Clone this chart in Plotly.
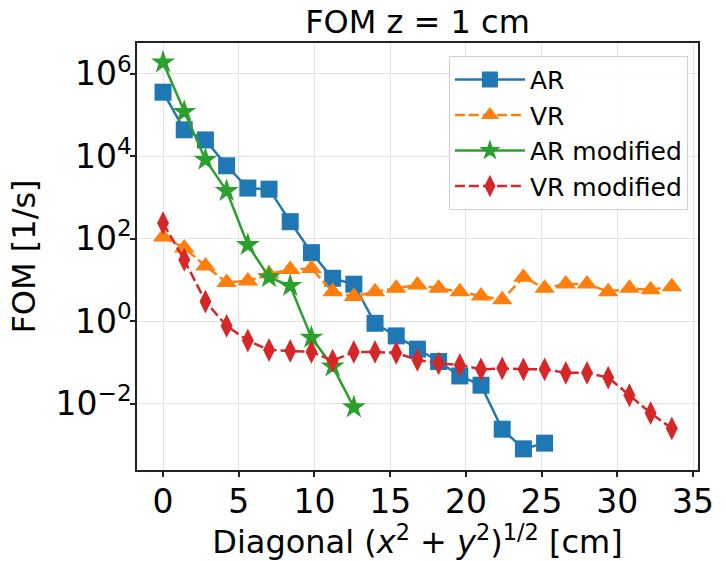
import plotly.graph_objects as go

# ---- data ----
step = 1.4
x_ar = [round(step * i, 2) for i in range(19)]
y_ar = [3.6e5, 4.4e4, 2.5e4, 5.9e3, 1.7e3, 1.6e3, 260, 46, 11, 7.9, 0.89, 0.44,
        0.21, 0.105, 0.047, 0.028, 0.0024, 8.0e-4, 1.1e-3]

x_vr = [round(step * i, 2) for i in range(25)]
y_vr = [110, 60, 22, 8.7, 9.5, 14, 18, 19, 5.2, 4.0, 5.2, 6.3, 7.6, 6.3, 5.2,
        4.1, 3.3, 11.7, 6.3, 8.0, 8.0, 5.2, 6.3, 5.8, 6.9]

x_arm = [round(step * i, 2) for i in range(10)]
y_arm = [1.9e6, 1.2e5, 8.3e3, 1.45e3, 71, 11.7, 7.2, 0.40, 0.08, 0.0082]

x_vrm = [round(step * i, 2) for i in range(25)]
y_vrm = [240, 31, 3.0, 0.77, 0.34, 0.20, 0.19, 0.18, 0.11, 0.18, 0.18, 0.17,
         0.115, 0.095, 0.087, 0.068, 0.072, 0.068, 0.068, 0.056, 0.056, 0.043,
         0.016, 0.0059, 0.0025]

x_ticks = [0, 5, 10, 15, 20, 25, 30, 35]
y_ticks = [1e-2, 1e0, 1e2, 1e4, 1e6]
y_ticktext = ["10<sup>\u22122</sup>", "10<sup>0</sup>", "10<sup>2</sup>",
              "10<sup>4</sup>", "10<sup>6</sup>"]

FONT = "DejaVu Sans"
LW = 2.5

fig = go.Figure()
fig.add_trace(go.Scatter(x=x_ar, y=y_ar, name="AR", mode="lines+markers",
                         line=dict(color="#1f77b4", width=LW),
                         marker=dict(symbol="square", size=17, color="#1f77b4")))
fig.add_trace(go.Scatter(x=x_vr, y=y_vr, name="VR", mode="lines+markers",
                         line=dict(color="#ff7f0e", width=LW, dash="10px,4px"),
                         marker=dict(symbol="triangle-up", size=18, color="#ff7f0e")))
fig.add_trace(go.Scatter(x=x_arm, y=y_arm, name="AR modified", mode="lines+markers",
                         line=dict(color="#2ca02c", width=LW),
                         marker=dict(symbol="star", size=18, color="#2ca02c")))
fig.add_trace(go.Scatter(x=x_vrm, y=y_vrm, name="VR modified", mode="lines+markers",
                         line=dict(color="#d62728", width=LW, dash="10px,4px"),
                         marker=dict(symbol="diamond-tall", size=17, color="#d62728")))

axis_common = dict(showline=True, mirror=True, linecolor="#222222", linewidth=1.5,
                   ticks="outside", ticklen=5, tickwidth=1.5, tickcolor="#222222",
                   showgrid=True, gridcolor="#e3e3e3", gridwidth=1, zeroline=False,
                   ticklabeloverflow="allow",
                   tickfont=dict(family=FONT, size=33, color="black"))

fig.update_layout(
    width=726, height=561,
    margin=dict(l=137, r=17, t=43, b=91),
    paper_bgcolor="white", plot_bgcolor="white",
    font=dict(family=FONT, color="black"),
    title=dict(text="FOM z = 1 cm", x=0.5, xref="paper", xanchor="center",
               y=1 - 22 / 561, yref="container", yanchor="middle",
               font=dict(family=FONT, size=32, color="black")),
    xaxis=dict(range=[-1.72, 35.33], tickvals=x_ticks, ticklabelstandoff=-3,
               title=dict(text="Diagonal (<i>x</i><sup>2</sup> + <i>y</i><sup>2</sup>)<sup>1/2</sup> [cm]",
                          font=dict(family=FONT, size=32, color="black"), standoff=2),
               **axis_common),
    yaxis=dict(type="log", range=[-3.61, 6.75], tickvals=y_ticks, ticktext=y_ticktext,
               ticklabelstandoff=-8,
               title=dict(text="FOM [1/s]", font=dict(family=FONT, size=32, color="black"),
                          standoff=10),
               **axis_common),
    legend=dict(x=0.556, y=0.97, xanchor="left", yanchor="top",
                bgcolor="rgba(255,255,255,0.85)", bordercolor="#d0d0d0", borderwidth=1,
                font=dict(family=FONT, size=25, color="black"), itemwidth=70,
                tracegroupgap=0),
    showlegend=True,
)

fig.write_html("out.html")
